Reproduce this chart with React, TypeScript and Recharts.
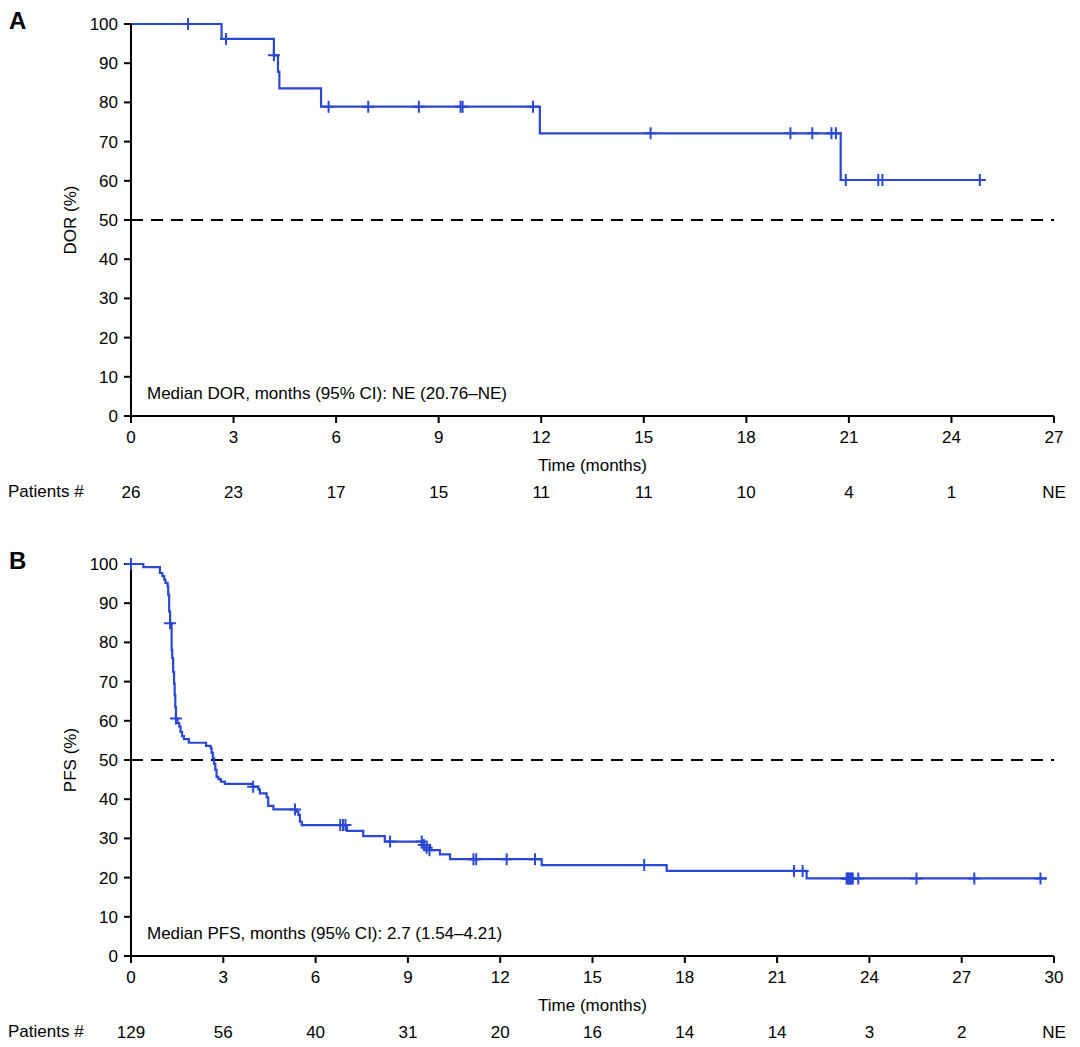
import React from "react";
import {
  ComposedChart,
  Line,
  Scatter,
  XAxis,
  YAxis,
  ReferenceLine,
} from "recharts";

const BLUE = "#2a48d2";
const FONT = '"Liberation Sans", Arial, Helvetica, sans-serif';

// Panel A: duration of response
const dorTimes = [0, 2.65, 4.18, 4.3, 4.34, 5.56, 11.96, 20.76, 25.0];
const dorValues = [100, 96.2, 92.0, 87.8, 83.6, 78.9, 72.1, 60.2, 60.2];
const dorCensorTimes = [
  1.67, 2.78, 4.18, 5.78, 6.94, 8.42, 9.64, 9.7, 11.76, 15.2, 19.29, 19.93,
  20.49, 20.62, 20.91, 21.86, 21.98, 24.83,
];
const dorCensorValues = [
  100, 96.2, 92.0, 78.9, 78.9, 78.9, 78.9, 78.9, 78.9, 72.1, 72.1, 72.1, 72.1,
  72.1, 60.2, 60.2, 60.2, 60.2,
];
const dorTicks = [0, 3, 6, 9, 12, 15, 18, 21, 24, 27];
const dorAtRisk = ["26", "23", "17", "15", "11", "11", "10", "4", "1", "NE"];

// Panel B: progression-free survival
const pfsTimes = [
  0, 0.4, 0.94, 1.02, 1.08, 1.12, 1.19, 1.21, 1.24, 1.27, 1.32, 1.34, 1.37,
  1.4, 1.42, 1.44, 1.46, 1.51, 1.57, 1.61, 1.66, 1.72, 1.88, 2.44, 2.59, 2.62,
  2.66, 2.7, 2.74, 2.78, 2.84, 2.92, 3.05, 3.95, 4.14, 4.19, 4.41, 4.46, 4.63,
  5.38, 5.44, 5.49, 5.55, 7.02, 7.55, 8.25, 9.5, 9.72, 10.04, 10.37, 13.35,
  17.41, 21.96, 29.77,
];
const pfsValues = [
  100, 99.2, 97.7, 96.9, 96.0, 95.2, 94.3, 92.2, 87.9, 84.9, 78.1, 76.0, 72.5,
  69.5, 66.5, 63.5, 60.6, 59.4, 58.5, 57.2, 56.1, 55.3, 54.4, 53.6, 53.0, 51.8,
  50.5, 49.0, 47.5, 45.7, 45.1, 44.5, 43.9, 43.2, 42.5, 41.5, 40.5, 38.3, 37.4,
  36.8, 36.0, 34.3, 33.4, 31.9, 30.6, 29.2, 28.3, 27.0, 25.9, 24.7, 23.2, 21.7,
  19.8, 19.8,
];
const pfsCensorTimes = [
  0, 1.27, 1.46, 3.97, 5.33, 6.8, 6.89, 6.97, 8.42, 9.45, 9.52, 9.61, 9.7,
  11.13, 11.22, 12.21, 13.13, 16.68, 21.55, 21.83, 23.26, 23.3, 23.34, 23.38,
  23.42, 23.46, 23.64, 25.53, 27.41, 29.56,
];
const pfsCensorValues = [
  100, 84.9, 60.6, 43.2, 37.4, 33.4, 33.4, 33.4, 29.2, 29.2, 28.3, 27.6, 27.0,
  24.7, 24.7, 24.7, 24.7, 23.2, 21.7, 21.7, 19.8, 19.8, 19.8, 19.8, 19.8, 19.8,
  19.8, 19.8, 19.8, 19.8,
];
const pfsTicks = [0, 3, 6, 9, 12, 15, 18, 21, 24, 27, 30];
const pfsAtRisk = ["129", "56", "40", "31", "20", "16", "14", "14", "3", "2", "NE"];

const yTicks = [0, 10, 20, 30, 40, 50, 60, 70, 80, 90, 100];

const zip = (t: number[], v: number[]) => t.map((x, i) => ({ t: x, v: v[i] }));

function Cross(props: any) {
  const { cx, cy } = props;
  if (cx == null || cy == null) return null;
  return (
    <path
      d={`M${cx - 6},${cy}H${cx + 6}M${cx},${cy - 6}V${cy + 6}`}
      stroke={BLUE}
      strokeWidth={2}
      fill="none"
    />
  );
}

// x tick: month label, plus the number at risk one row further down
function MonthTick(props: any) {
  const { x, y, payload, index, atRisk } = props;
  return (
    <g>
      <text x={x} y={y} dy="0.71em" textAnchor="middle" fill="#000" fontSize={17}>
        {payload.value}
      </text>
      <text x={x} y={y + 55} dy="0.71em" textAnchor="middle" fill="#000" fontSize={17}>
        {atRisk[index]}
      </text>
    </g>
  );
}

interface PanelProps {
  top: number;
  letter: string;
  yLabel: string;
  median: string;
  curve: { t: number; v: number }[];
  censors: { t: number; v: number }[];
  ticks: number[];
  atRisk: string[];
}

function Panel({ top, letter, yLabel, median, curve, censors, ticks, atRisk }: PanelProps) {
  const xMax = ticks[ticks.length - 1];
  return (
    <div style={{ position: "absolute", left: 0, top, width: 1080, height: 540 }}>
      <ComposedChart
        width={1080}
        height={540}
        margin={{ top: 24, right: 26, left: 0, bottom: 64 }}
      >
        <XAxis
          type="number"
          dataKey="t"
          domain={[0, xMax]}
          ticks={ticks}
          height={60}
          stroke="#000"
          strokeWidth={2}
          tickSize={7}
          tickMargin={8}
          tick={(p: any) => <MonthTick {...p} atRisk={atRisk} />}
          label={{
            value: "Time (months)",
            position: "insideBottom",
            offset: 5,
            fill: "#000",
            fontSize: 17,
          }}
        />
        <YAxis
          type="number"
          dataKey="v"
          domain={[0, 100]}
          ticks={yTicks}
          width={131}
          stroke="#000"
          strokeWidth={2}
          tickSize={7}
          tickMargin={6}
          tick={{ fill: "#000", fontSize: 17 }}
          label={{
            value: yLabel,
            angle: -90,
            position: "insideLeft",
            offset: 70,
            fill: "#000",
            fontSize: 17,
            style: { textAnchor: "middle" },
          }}
        />
        <ReferenceLine y={50} stroke="#000" strokeWidth={2} strokeDasharray="12 8" />
        <Line
          data={curve}
          dataKey="v"
          type="stepAfter"
          stroke={BLUE}
          strokeWidth={2.2}
          dot={false}
          activeDot={false}
          isAnimationActive={false}
        />
        <Scatter
          data={censors}
          dataKey="v"
          shape={(p: any) => <Cross {...p} />}
          isAnimationActive={false}
        />
      </ComposedChart>
      <div
        style={{
          position: "absolute",
          left: 9,
          top: 9,
          fontSize: 24,
          lineHeight: "24px",
          fontWeight: "bold",
        }}
      >
        {letter}
      </div>
      <div
        style={{
          position: "absolute",
          left: 147,
          top: 384,
          fontSize: 17,
          lineHeight: "20px",
          whiteSpace: "nowrap",
        }}
      >
        {median}
      </div>
      <div
        style={{
          position: "absolute",
          left: 8,
          top: 482,
          fontSize: 17,
          lineHeight: "20px",
          whiteSpace: "nowrap",
        }}
      >
        Patients #
      </div>
    </div>
  );
}

export default function App() {
  return (
    <div
      style={{
        position: "absolute",
        left: 0,
        top: 0,
        width: 1080,
        height: 1047,
        background: "#fff",
        fontFamily: FONT,
        color: "#000",
      }}
    >
      <Panel
        top={0}
        letter="A"
        yLabel="DOR (%)"
        median="Median DOR, months (95% CI): NE (20.76–NE)"
        curve={zip(dorTimes, dorValues)}
        censors={zip(dorCensorTimes, dorCensorValues)}
        ticks={dorTicks}
        atRisk={dorAtRisk}
      />
      <Panel
        top={540}
        letter="B"
        yLabel="PFS (%)"
        median="Median PFS, months (95% CI): 2.7 (1.54–4.21)"
        curve={zip(pfsTimes, pfsValues)}
        censors={zip(pfsCensorTimes, pfsCensorValues)}
        ticks={pfsTicks}
        atRisk={pfsAtRisk}
      />
    </div>
  );
}
